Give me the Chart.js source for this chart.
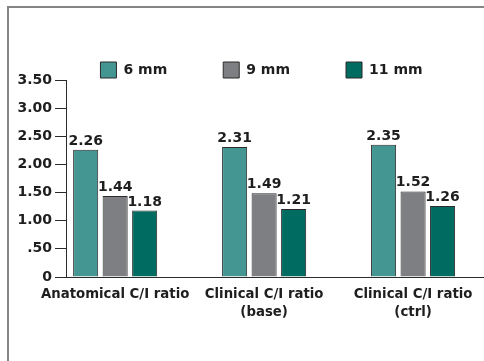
<!DOCTYPE html>
<html>
<head>
<meta charset="utf-8">
<script src="https://cdn.jsdelivr.net/npm/chart.js@4.4.0/dist/chart.umd.min.js"></script>
<style>
  html, body { margin: 0; padding: 0; background: #fff; overflow: hidden; width: 484px; height: 361px; }
  #frame { position: absolute; left: 7px; top: 6px; width: 600px; height: 400px;
           border-left: 2px solid #858585; border-top: 2px solid #858585; }
  #chart { position: absolute; left: 0; top: 0; }
</style>
</head>
<body>
<div id="frame"></div>
<canvas id="chart" width="505" height="361"></canvas>
<script>
// categories along the x axis (each entry = lines of the label)
var categories = [
    ["Anatomical C/I ratio"],
    ["Clinical C/I ratio", "(base)"],
    ["Clinical C/I ratio", "(ctrl)"]
];
var seriesNames = ["6 mm", "9 mm", "11 mm"];
var values6 = [2.26, 2.31, 2.35];
var values9 = [1.44, 1.49, 1.52];
var values11 = [1.18, 1.21, 1.26];
var yTickLabels = ["0", ".50", "1.00", "1.50", "2.00", "2.50", "3.00", "3.50"];

var colors = ["#439692", "#7e7f82", "#006b61"];
var font = "'DejaVu Sans', sans-serif";
var ink = "#1e1e1e";

function toPoints(vals) {
    return vals.map(function (v, i) { return { x: i, y: v }; });
}

var allValues = [values6, values9, values11];

var data = {
    datasets: allValues.map(function (vals, k) {
        return {
            label: seriesNames[k],
            data: toPoints(vals),
            backgroundColor: colors[k],
            borderColor: "#2b2b2b",
            borderWidth: 1,
            categoryPercentage: 0.594,
            barPercentage: 0.85
        };
    })
};

// numbers on top of each bar
var valueLabels = {
    id: 'valueLabels',
    afterDatasetsDraw: function (chart) {
        var ctx = chart.ctx;
        ctx.save();
        ctx.font = "bold 14px " + font;
        ctx.fillStyle = ink;
        ctx.textAlign = 'center';
        ctx.textBaseline = 'alphabetic';
        chart.data.datasets.forEach(function (ds, i) {
            chart.getDatasetMeta(i).data.forEach(function (bar, j) {
                ctx.fillText(ds.data[j].y.toFixed(2), bar.x, bar.y - 5);
            });
        });
        ctx.restore();
    }
};

var config = {
    type: 'bar',
    data: data,
    plugins: [valueLabels],
    options: {
        responsive: false,
        animation: false,
        devicePixelRatio: 1,
        layout: { padding: { left: 18, right: 0, top: 6, bottom: 31 } },
        plugins: {
            tooltip: { enabled: false },
            legend: {
                position: 'top',
                align: 'center',
                maxHeight: 74,
                labels: {
                    boxWidth: 16,
                    boxHeight: 16,
                    padding: 56,
                    color: ink,
                    font: { family: font, size: 14, weight: 'bold' }
                }
            }
        },
        scales: {
            x: {
                type: 'linear',
                offset: false,
                min: -0.33,
                max: 2.617,
                grid: { display: false, drawTicks: false },
                border: { display: true, color: "#2b2b2b", width: 1 },
                afterBuildTicks: function (axis) {
                    axis.ticks = categories.map(function (c, i) { return { value: i }; });
                },
                ticks: {
                    padding: 8,
                    autoSkip: false,
                    maxRotation: 0,
                    color: ink,
                    font: { family: font, size: 13.3, weight: 'bold', lineHeight: '18.5px' },
                    callback: function (v) { return categories[v]; }
                }
            },
            y: {
                min: 0,
                max: 3.5,
                afterFit: function (axis) { axis.width = 48; },
                grid: { drawOnChartArea: false, tickLength: 11, color: "#2b2b2b" },
                border: { display: true, color: "#2b2b2b", width: 1 },
                ticks: {
                    stepSize: 0.5,
                    padding: 3,
                    color: ink,
                    font: { family: font, size: 14, weight: 'bold' },
                    callback: function (v, i) { return yTickLabels[i]; }
                }
            }
        }
    }
};

new Chart(document.getElementById('chart').getContext('2d'), config);
</script>
</body>
</html>
